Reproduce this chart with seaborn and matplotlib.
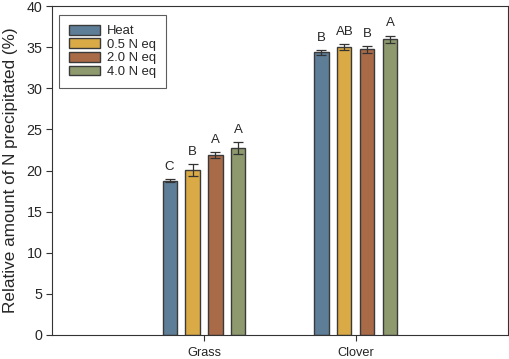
import matplotlib
matplotlib.use("Agg")
import matplotlib.pyplot as plt
import seaborn as sns
import pandas as pd

categories = ["Grass", "Clover"]
treatments = ["Heat", "0.5 N eq", "2.0 N eq", "4.0 N eq"]
grass_vals = [18.75, 20.05, 21.9, 22.77]
clover_vals = [34.37, 35.05, 34.73, 35.97]
grass_err = [0.2, 0.7, 0.35, 0.7]
clover_err = [0.3, 0.35, 0.4, 0.45]
grass_letters = ["C", "B", "A", "A"]
clover_letters = ["B", "AB", "B", "A"]
colors = ["#5e7e98", "#d9aa45", "#a96a48", "#8e9a6d"]

rows = []
for cat, vals, errs, lets in [("Grass", grass_vals, grass_err, grass_letters),
                              ("Clover", clover_vals, clover_err, clover_letters)]:
    for t, v, e, l in zip(treatments, vals, errs, lets):
        rows.append(dict(cat=cat, trt=t, val=v, err=e, let=l))
df = pd.DataFrame(rows)

sns.set_style("white")
plt.rcParams['font.family'] = ['Liberation Sans', 'DejaVu Sans']

fig = plt.figure(figsize=(5.10, 3.59), dpi=100)
ax = fig.add_axes([0.102, 0.067, 0.894, 0.916])

sns.barplot(data=df, x="cat", y="val", hue="trt", order=categories,
            hue_order=treatments, palette=colors, width=0.605, gap=0.39,
            errorbar=None, edgecolor="#3a3a3a", linewidth=1.0, ax=ax,
            saturation=1)

for cont, t in zip(ax.containers, treatments):
    for bar, cat in zip(cont, categories):
        r = df[(df.cat == cat) & (df.trt == t)].iloc[0]
        xc = bar.get_x() + bar.get_width() / 2
        h = bar.get_height()
        ax.errorbar(xc, h, yerr=r.err, color="#333333", capsize=3.6,
                    elinewidth=0.9, capthick=0.9, fmt="none")
        ax.annotate(r.let, (xc, h + r.err), xytext=(0, 4.5),
                    textcoords="offset points", ha="center", va="bottom",
                    fontsize=9.5)

ax.set_xlim(-1, 2)
ax.set_ylim(0, 40)
ax.set_yticks(range(0, 41, 5))
ax.set_xlabel("")
ax.set_ylabel("Relative amount of N precipitated (%)", fontsize=12.3, labelpad=6)
ax.tick_params(axis="both", which="both", direction="out", length=4,
               width=0.8, color="#333333", left=True, bottom=True)
ax.tick_params(axis="y", labelsize=10.3, pad=3)
ax.tick_params(axis="x", labelsize=9.2, pad=5)
for s in ax.spines.values():
    s.set_color("#333333")
    s.set_linewidth(0.8)

leg = ax.legend(loc="upper left", bbox_to_anchor=(0.0154, 0.973), fontsize=9.4,
                frameon=True, fancybox=False, edgecolor="#333333",
                handlelength=2.35, handleheight=0.78, labelspacing=0.09,
                borderpad=0.75, handletextpad=0.55, borderaxespad=0)
leg.get_frame().set_linewidth(0.8)

fig.savefig("out.png", dpi=100)
